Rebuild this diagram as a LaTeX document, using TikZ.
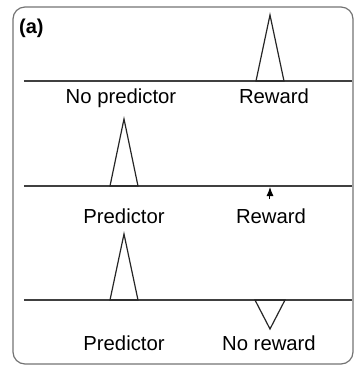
\documentclass[tikz,border=0pt]{standalone}
\usepackage{fontspec}
\setmainfont{Liberation Sans}
\usetikzlibrary{arrows.meta}
\begin{document}
\begin{tikzpicture}[x=1pt,y=-1pt,
  lbl/.style={anchor=base,inner sep=0pt,font=\fontsize{20.3}{24}\selectfont},
  axis/.style={draw=black!75,line width=1.1pt},
  spike/.style={draw=black!85,line width=1.2pt,line join=miter},
  frame/.style={draw=black!55,line width=1.2pt,rounded corners=12pt}]
\useasboundingbox (0,0) rectangle (354,368);
\draw[frame] (13,7) rectangle (353,364);
\node[lbl,anchor=base west,font=\fontsize{20}{24}\selectfont\bfseries] (tag) at (19,33) {(a)};
% row 1
\draw[axis] (24,81) -- (352,81);
\draw[spike] (256,81) -- (270,15) -- (284,81) -- cycle;
\node[lbl] (np) at (121,103) {No predictor};
\node[lbl] (r1) at (274,103) {Reward};
% row 2
\draw[axis] (24,186) -- (352,186);
\draw[spike] (110,186) -- (124,119) -- (138,186) -- cycle;
\node[lbl] (p2) at (124,223) {Predictor};
\node[lbl] (r2) at (271,223) {Reward};
\coordinate (atail) at (270,199);
\coordinate (ahead) at (270,187);
\draw[black,line width=1pt,-{Latex[length=9pt,width=7pt]}] (atail) -- (ahead);
% row 3
\draw[axis] (24,300) -- (352,300);
\draw[spike] (110,300) -- (124,234) -- (138,300) -- cycle;
\draw[spike] (255,300) -- (270,329) -- (285,300) -- cycle;
\node[lbl] (p3) at (124,350) {Predictor};
\node[lbl] (nr) at (269,350) {No reward};
\end{tikzpicture}
\end{document}
